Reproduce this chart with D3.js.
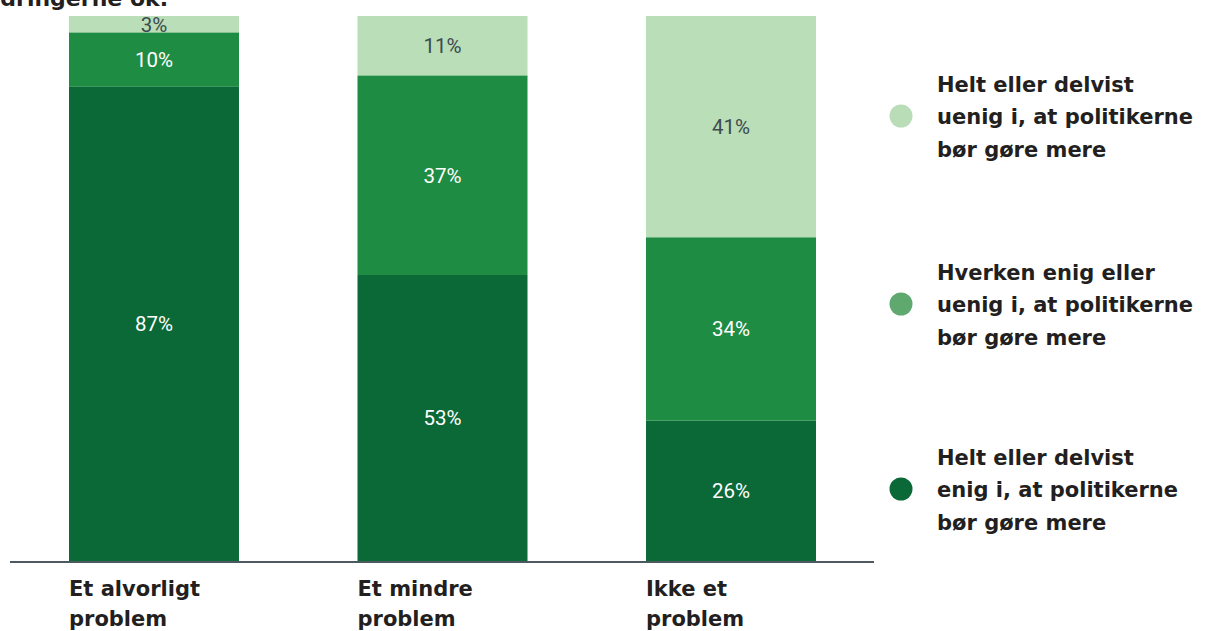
<!DOCTYPE html>
<html><head><meta charset="utf-8">
<script src="https://cdn.jsdelivr.net/npm/d3@7"></script>
<style>body{margin:0;background:#fff}svg{display:block}</style>
</head><body>
<svg id="c" width="1205" height="631"></svg>
<script>
const categories = [["Et alvorligt","problem"],["Et mindre","problem"],["Ikke et","problem"]];
const seriesNames = ["enig","hverken","uenig"];
const enig = [87, 53, 26];
const hverken = [10, 37, 34];
const uenig = [3, 11, 41];
const legendLabels = [
  ["Helt eller delvist","uenig i, at politikerne","bør gøre mere"],
  ["Hverken enig eller","uenig i, at politikerne","bør gøre mere"],
  ["Helt eller delvist","enig i, at politikerne","bør gøre mere"]
];
const titleText = "klimaforandringerne ok.";

const barColors = {enig:"#0b6837", hverken:"#1f8c44", uenig:"#b9deb8"};
const dotColors = ["#b9ddb7","#5fa86e","#0b6837"];
const labelColors = {enig:"#ffffff", hverken:"#ffffff", uenig:"#3d4a4f"};

const svg = d3.select("#c");
const rows = categories.map((c,i)=>({cat:i, enig:enig[i], hverken:hverken[i], uenig:uenig[i]}));
const stack = d3.stack().keys(seriesNames).offset(d3.stackOffsetExpand);
const stacked = stack(rows);

const x0 = d3.scaleLinear().domain([0,2]).range([69,646]);
const bw = 170;
const y = d3.scaleLinear().domain([0,1]).range([561,16]);

// title (cut off at top, as in the reference)
svg.append("text").attr("x",168).attr("y",6).attr("text-anchor","end")
  .attr("font-family","DejaVu Sans").attr("font-weight","bold").attr("font-size",22)
  .attr("fill","#231f20").text(titleText);

const g = svg.append("g");
stacked.forEach(s=>{
  g.selectAll(null).data(s).enter().append("rect")
    .attr("x",d=>x0(d.data.cat)).attr("width",bw)
    .attr("y",d=>y(d[1])).attr("height",d=>y(d[0])-y(d[1]))
    .attr("fill",barColors[s.key]);
  g.selectAll(null).data(s).enter().append("text")
    .attr("x",d=>x0(d.data.cat)+bw/2).attr("y",d=>(y(d[0])+y(d[1]))/2)
    .attr("dy","0.36em").attr("text-anchor","middle")
    .attr("font-family","Roboto").attr("font-size",20.5)
    .attr("fill",labelColors[s.key])
    .text(d=>d.data[s.key]+"%");
});

// axis line
svg.append("line").attr("x1",10).attr("x2",874).attr("y1",562).attr("y2",562)
  .attr("stroke","#4c5a5f").attr("stroke-width",2);

// category labels
categories.forEach((c,i)=>{
  const t = svg.append("text")
    .attr("font-family","DejaVu Sans").attr("font-weight","bold").attr("font-size",21)
    .attr("fill","#231f20");
  c.forEach((line,j)=>t.append("tspan").attr("x",x0(i)).attr("y",596+j*30).text(line));
});

// legend
const legendY = [117, 305, 490];
legendLabels.forEach((lines,i)=>{
  svg.append("circle").attr("cx",901).attr("cy",legendY[i]-1).attr("r",11.5).attr("fill",dotColors[i]);
  const t = svg.append("text").attr("font-family","DejaVu Sans").attr("font-weight","bold")
    .attr("font-size",21).attr("fill","#231f20");
  lines.forEach((line,j)=>t.append("tspan").attr("x",937).attr("y",legendY[i]+(j-1)*32.5).attr("dy","0.35em").text(line));
});
</script>
</body></html>
